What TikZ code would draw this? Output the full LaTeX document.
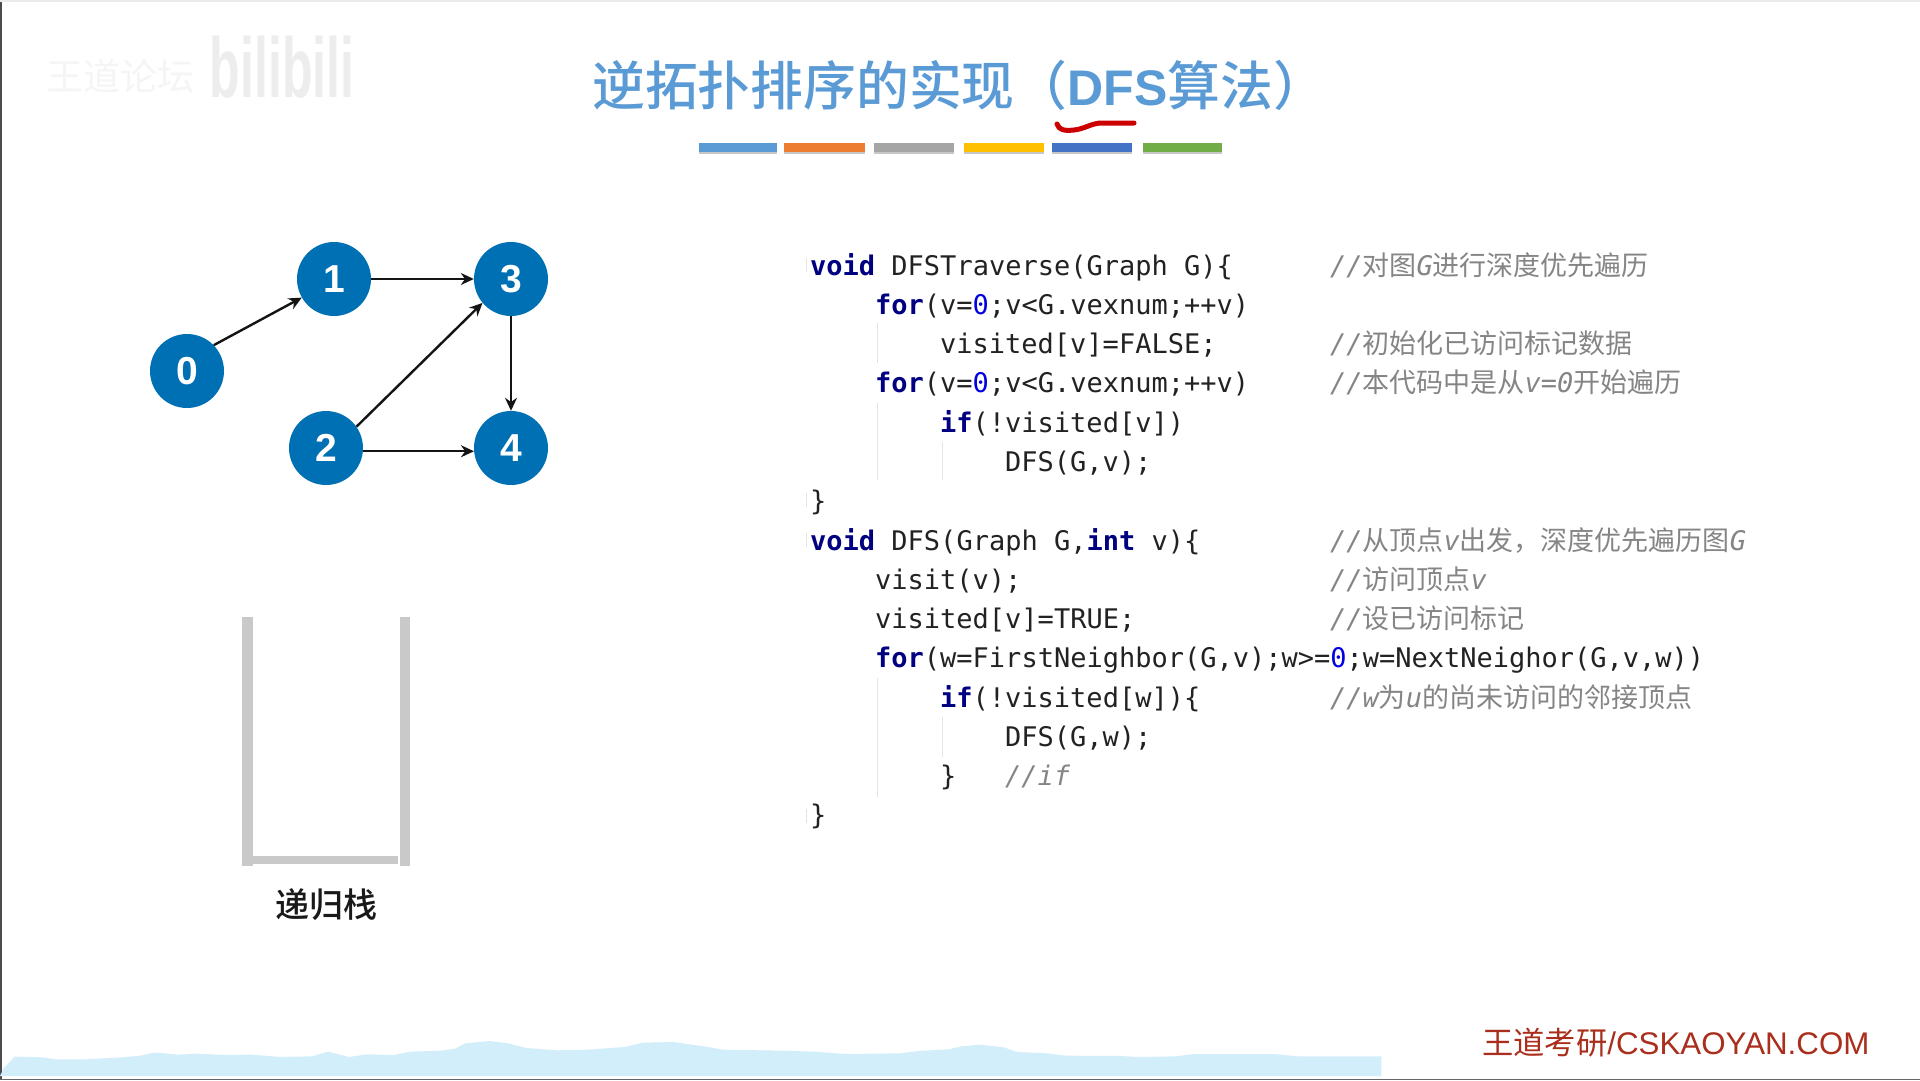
\documentclass[tikz,border=0pt]{standalone}
\usepackage{fontspec}
\usetikzlibrary{arrows.meta}
\setmainfont{Liberation Sans}
\setmonofont{DejaVu Sans Mono}
\newfontfamily\cjk{Noto Sans CJK SC}
\newfontfamily\cjkm{Noto Sans CJK SC Medium}
\newfontfamily\monoit{DejaVu Sans Mono Oblique}
\newfontfamily\monob{DejaVu Sans Mono Bold}
\definecolor{titleblue}{HTML}{5B9BD5}
\definecolor{nodeblue}{HTML}{0070B4}
\definecolor{kw}{HTML}{000080}
\definecolor{num}{HTML}{0000E0}
\definecolor{codetext}{HTML}{222222}
\definecolor{cmt}{HTML}{858585}
\definecolor{guide}{HTML}{E4E4E4}
\definecolor{stackgray}{HTML}{C9C9C9}
\definecolor{hill}{HTML}{D2EEFA}
\definecolor{brand}{HTML}{AA2E1C}
\newcommand{\K}[1]{{\monob\color{kw}#1}}
\newcommand{\Z}{{\color{num}0}}
\newcommand{\Hz}[1]{{\cjk #1}}
\tikzset{
  vertex/.style={circle,fill=nodeblue,minimum size=74pt,inner sep=0pt,text=white,font=\fontsize{39}{39}\selectfont\bfseries},
  edgearrow/.style={draw=black!92,line width=2.4pt,-{Stealth[length=13pt,width=12pt]}},
  code/.style={anchor=base west,inner sep=0pt,text=codetext,font=\fontsize{27}{27}\ttfamily},
  comment/.style={anchor=base west,inner sep=0pt,text=cmt,font=\fontsize{27}{27}\monoit},
  guideline/.style={draw=guide,line width=1.2pt}
}
\begin{document}
\begin{tikzpicture}[x=1pt,y=-1pt]
\useasboundingbox (0,0) rectangle (1920,1080);
\fill[white] (0,0) rectangle (1920,1080);
% frame edges
\fill[black!70] (0,0) rectangle (2,1080);
\fill[black!8] (0,0) rectangle (1920,1.5);
\fill[black!60] (0,1078.5) rectangle (1920,1080);
% watermark
\node[inner sep=0pt,anchor=center,text=black!4,font=\fontsize{37}{37}\cjk] (wmtext) at (120,76) {王道论坛};
\node[inner sep=0pt,anchor=center,text=black!7] (wmlogo) at (282,67) {\scalebox{1}[1.7]{\fontsize{50}{50}\bfseries bilibili}};
% title
\node[anchor=base west,inner sep=0pt,text=titleblue,font=\fontsize{52.8}{53}\cjkm] (title) at (592,105) {逆拓扑排序的实现（{\fontsize{50}{50}\selectfont\rmfamily\bfseries DFS}算法）};
% colour bars
\foreach \a/\b/\c in {699/777/5B9BD5,784/865/ED7D31,874/954/A5A5A5,964/1044/FFC000,1052/1132/4472C4,1143/1222/70AD47}{
  \definecolor{barc}{HTML}{\c}
  \fill[black!22] (\a,150) rectangle (\b,154);
  \fill[barc] (\a,142.5) rectangle (\b,152);
}
% red pen mark
\draw[draw=red!80!black,line width=5pt,line cap=round,line join=round] (1057,124) .. controls (1059,130) and (1064,131) .. (1074,130) .. controls (1084,129) and (1090,124) .. (1100,123) -- (1134,123);
% graph
\node[vertex] (n0) at (187,371) {0};
\node[vertex] (n1) at (334,279) {1};
\node[vertex] (n2) at (326,448) {2};
\node[vertex] (n3) at (511,279) {3};
\node[vertex] (n4) at (511,448) {4};
\draw[edgearrow] (n0.44) -- (n1.210);
\draw[edgearrow,line width=1.9pt] (n1) -- (n3);
\draw[edgearrow] (n2.35) -- (n3.220);
\draw[edgearrow] (n3) -- (n4);
\draw[edgearrow,line width=1.9pt] (n2.355) -- (n4.185);
% stack
\fill[stackgray] (242,617) rectangle (252.5,866);
\fill[stackgray] (400,617) rectangle (410,866);
\fill[stackgray] (252.5,856) rectangle (397.5,864);
\node[inner sep=0pt,text=black!90,font=\fontsize{34}{34}\cjkm] (stacklabel) at (326,905) {递归栈};
% indent guides
\draw[guideline] (877.7,323) -- (877.7,363);
\draw[guideline] (877.7,403) -- (877.7,480);
\draw[guideline] (942.7,442) -- (942.7,480);
\draw[guideline] (877.7,678) -- (877.7,797);
\draw[guideline] (942.7,717) -- (942.7,757);
\foreach \yy in {265,500,540,816}{\draw[guideline] (806.5,\yy-7) -- (806.5,\yy+7);}
% code
\node[code] (c0) at (810,275) {\K{void} DFSTraverse(Graph G)\{};
\node[code] (c1) at (875,314.3) {\K{for}(v=\Z;v<G.vexnum;++v)};
\node[code] (c2) at (940,353.6) {visited[v]=FALSE;};
\node[code] (c3) at (875,392.9) {\K{for}(v=\Z;v<G.vexnum;++v)};
\node[code] (c4) at (940,432.2) {\K{if}(!visited[v])};
\node[code] (c5) at (1005,471.5) {DFS(G,v);};
\node[code] (c6) at (810,510.5) {\}};
\node[code] (c7) at (810,550) {\K{void} DFS(Graph G,\K{int} v)\{};
\node[code] (c8) at (875,589.2) {visit(v);};
\node[code] (c9) at (875,628.5) {visited[v]=TRUE;};
\node[code] (c10) at (875,667.8) {\K{for}(w=FirstNeighbor(G,v);w>=\Z;w=NextNeighor(G,v,w))};
\node[code] (c11) at (940,707) {\K{if}(!visited[w])\{};
\node[code] (c12) at (1005,746.3) {DFS(G,w);};
\node[code] (c13) at (940,785.6) {\}};
\node[comment] (c13b) at (1005,785.6) {//if};
\node[code] (c14) at (810,824.5) {\}};
% comments
\node[comment] (m0) at (1330,275) {//\Hz{对图}G\Hz{进行深度优先遍历}};
\node[comment] (m2) at (1330,353.6) {//\Hz{初始化已访问标记数据}};
\node[comment] (m3) at (1330,392.9) {//\Hz{本代码中是从}v=0\Hz{开始遍历}};
\node[comment] (m7) at (1330,550) {//\Hz{从顶点}v\Hz{出发，深度优先遍历图}G};
\node[comment] (m8) at (1330,589.2) {//\Hz{访问顶点}v};
\node[comment] (m9) at (1330,628.5) {//\Hz{设已访问标记}};
\node[comment] (m11) at (1330,707) {//w\Hz{为}u\Hz{的尚未访问的邻接顶点}};
% footer hills
\begin{scope}[shift={(0,1000)},x=1.2245pt,y=-0.3333pt]
\fill[hill] (0,228) -- (3,205) -- (12,170) -- (35,172) -- (45,178) -- (70,178) -- (100,172) -- (115,167) -- (125,158) -- (135,160) -- (145,164) -- (160,161) -- (185,165) -- (205,164) -- (230,171) -- (255,169) -- (268,155) -- (285,171) -- (300,163) -- (322,165) -- (335,155) -- (360,152) -- (372,146) -- (380,130) -- (400,123) -- (415,130) -- (430,144) -- (455,151) -- (480,149) -- (510,141) -- (525,128) -- (550,126) -- (580,142) -- (590,149) -- (640,152) -- (665,155) -- (690,162) -- (735,160) -- (750,153) -- (775,148) -- (785,139) -- (800,134) -- (820,142) -- (830,156) -- (855,160) -- (870,167) -- (915,168) -- (930,171) -- (960,169) -- (975,162) -- (1040,162) -- (1060,169) -- (1128,169) -- (1128,228) -- cycle;
\end{scope}
\node[anchor=base west,inner sep=0pt,text=brand,font=\fontsize{31.3}{32}\selectfont] (brandtext) at (1482,1054) {{\cjk 王道考研}/CSKAOYAN.COM};
\end{tikzpicture}
\end{document}
